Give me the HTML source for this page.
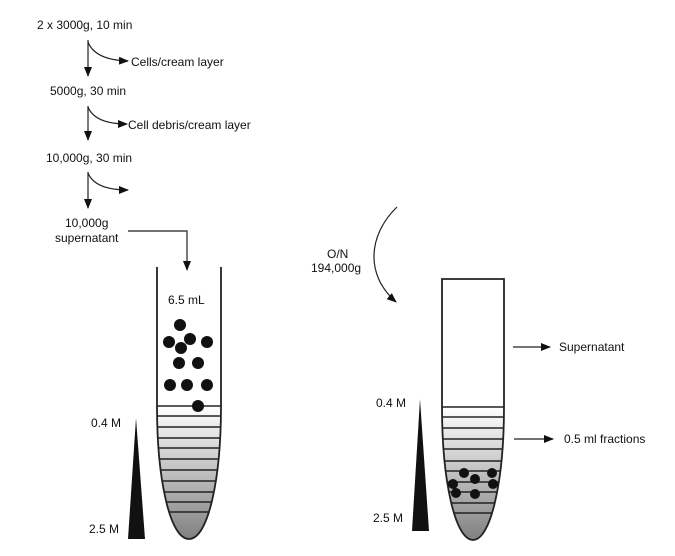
<!DOCTYPE html>
<html><head><meta charset="utf-8"><style>
html,body{margin:0;padding:0;background:#fff;}
svg{display:block;}
text{font-family:"Liberation Sans",Arial,sans-serif;font-size:12px;fill:#111;}
</style></head><body>
<svg width="675" height="556" viewBox="0 0 675 556" xmlns="http://www.w3.org/2000/svg">
<defs>
<linearGradient id="g" x1="0" y1="0" x2="0" y2="1">
<stop offset="0" stop-color="#ffffff"/><stop offset="1" stop-color="#7a7a7a"/>
</linearGradient>
<clipPath id="c1"><path d="M157,267 V406 C157,480 170,539 189,539 C208,539 221,480 221,406 V267 Z"/></clipPath>
<clipPath id="c2"><path d="M442,279 V407 C442,480 455,540 473,540 C491,540 504,480 504,407 V279 Z"/></clipPath>
<marker id="ah" markerWidth="10" markerHeight="10" refX="9" refY="5" orient="auto" markerUnits="userSpaceOnUse"><path d="M0,1 L10,5 L0,9 Z" fill="#111"/></marker>
</defs>
<g stroke="#222" stroke-width="1.2" fill="none">
<!-- flow -->
<line x1="88" y1="40" x2="88" y2="76" marker-end="url(#ah)"/>
<path d="M88,42 Q95,60 128,61" marker-end="url(#ah)"/>
<line x1="88" y1="106" x2="88" y2="140" marker-end="url(#ah)"/>
<path d="M88,107 Q95,124 127,124" marker-end="url(#ah)"/>
<line x1="88" y1="172" x2="88" y2="208" marker-end="url(#ah)"/>
<path d="M88,173 Q95,190 128,190" marker-end="url(#ah)"/>
<polyline points="128,231 187,231 187,270" marker-end="url(#ah)"/>
<path d="M397,207 C368,235 365,275 396,302" marker-end="url(#ah)"/>
<line x1="513" y1="347" x2="550" y2="347" marker-end="url(#ah)"/>
<line x1="514" y1="439" x2="553" y2="439" marker-end="url(#ah)"/>
</g>
<!-- left tube -->
<g clip-path="url(#c1)">
<rect x="150" y="406" width="80" height="140" fill="url(#g)"/>
<g stroke="#222" stroke-width="1.5">
<line x1="150" y1="406" x2="230" y2="406"/><line x1="150" y1="416" x2="230" y2="416"/><line x1="150" y1="427" x2="230" y2="427"/><line x1="150" y1="438" x2="230" y2="438"/><line x1="150" y1="448" x2="230" y2="448"/><line x1="150" y1="459" x2="230" y2="459"/><line x1="150" y1="470" x2="230" y2="470"/><line x1="150" y1="481" x2="230" y2="481"/><line x1="150" y1="492" x2="230" y2="492"/><line x1="150" y1="502" x2="230" y2="502"/><line x1="150" y1="512" x2="230" y2="512"/>
</g></g>
<path d="M157,267 V406 C157,480 170,539 189,539 C208,539 221,480 221,406 V267" fill="none" stroke="#222" stroke-width="1.8"/>
<g fill="#111">
<circle cx="180" cy="325" r="6"/><circle cx="169" cy="342" r="6"/><circle cx="190" cy="339" r="6"/><circle cx="207" cy="342" r="6"/><circle cx="181" cy="348" r="6"/><circle cx="179" cy="363" r="6"/><circle cx="198" cy="363" r="6"/><circle cx="170" cy="385" r="6"/><circle cx="187" cy="385" r="6"/><circle cx="207" cy="385" r="6"/><circle cx="198" cy="406" r="6"/>
</g>
<polygon points="136,418 128,539 145,539" fill="#111"/>
<!-- right tube -->
<g clip-path="url(#c2)">
<rect x="436" y="407" width="80" height="140" fill="url(#g)"/>
<g stroke="#222" stroke-width="1.5">
<line x1="436" y1="407" x2="516" y2="407"/><line x1="436" y1="417" x2="516" y2="417"/><line x1="436" y1="428" x2="516" y2="428"/><line x1="436" y1="439" x2="516" y2="439"/><line x1="436" y1="449" x2="516" y2="449"/><line x1="436" y1="461" x2="516" y2="461"/><line x1="436" y1="471" x2="516" y2="471"/><line x1="436" y1="482" x2="516" y2="482"/><line x1="436" y1="492" x2="516" y2="492"/><line x1="436" y1="503" x2="516" y2="503"/><line x1="436" y1="513" x2="516" y2="513"/>
</g></g>
<path d="M442,407 V279 H504 V407 C504,480 491,540 473,540 C455,540 442,480 442,407 Z" fill="none" stroke="#222" stroke-width="1.8"/>
<g fill="#111">
<circle cx="464" cy="473" r="5"/><circle cx="492" cy="473" r="5"/><circle cx="475" cy="479" r="5"/><circle cx="453" cy="484" r="5"/><circle cx="493" cy="484" r="5"/><circle cx="456" cy="493" r="5"/><circle cx="475" cy="494" r="5"/>
</g>
<polygon points="420,399 412,531 429,531" fill="#111"/>
<!-- text -->
<text x="37" y="29">2 x 3000g, 10 min</text>
<text x="131" y="66">Cells/cream layer</text>
<text x="50" y="95">5000g, 30 min</text>
<text x="128" y="129">Cell debris/cream layer</text>
<text x="46" y="162">10,000g, 30 min</text>
<text x="65" y="227">10,000g</text>
<text x="55" y="242">supernatant</text>
<text x="168" y="304">6.5 mL</text>
<text x="91" y="427">0.4 M</text>
<text x="89" y="533">2.5 M</text>
<text x="327" y="258">O/N</text>
<text x="311" y="272">194,000g</text>
<text x="559" y="351">Supernatant</text>
<text x="564" y="443">0.5 ml fractions</text>
<text x="376" y="407">0.4 M</text>
<text x="373" y="522">2.5 M</text>
</svg>
</body></html>
